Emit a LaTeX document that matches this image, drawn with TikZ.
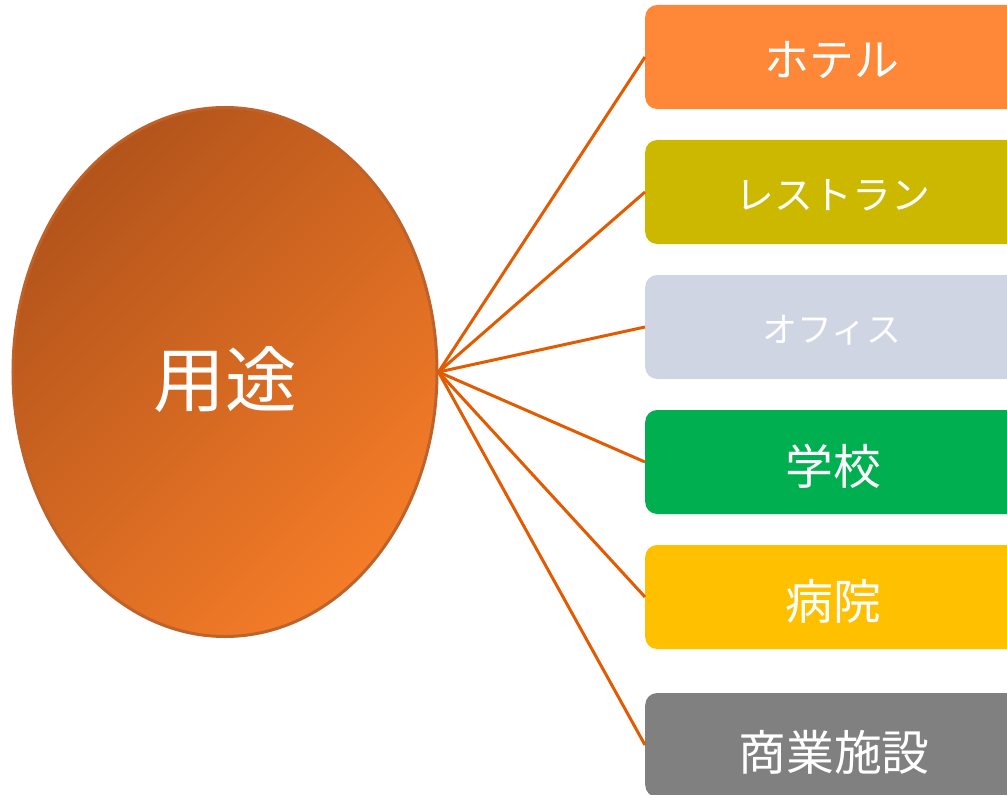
\documentclass[tikz,border=0pt]{standalone}
\usepackage{fontspec}
\newfontfamily\cjk{Noto Sans CJK JP}
\usetikzlibrary{shapes.geometric}
\definecolor{linec}{HTML}{E35B00}
\definecolor{ellD}{HTML}{B3541B}
\definecolor{ellL}{HTML}{F47C28}
\definecolor{ellB}{HTML}{BF622A}
\definecolor{cA}{HTML}{FF8838}
\definecolor{cB}{HTML}{CDB800}
\definecolor{cC}{HTML}{CFD5E3}
\definecolor{cD}{HTML}{00B050}
\definecolor{cE}{HTML}{FFC000}
\definecolor{cF}{HTML}{808080}
\tikzset{
  catbox/.style={rounded corners=12bp, minimum width=375bp, minimum height=104bp, inner sep=0pt, anchor=west, text=white},
  conn/.style={draw=linec, line width=3bp},
}
\begin{document}
\begin{tikzpicture}[x=1bp,y=-1bp]
\useasboundingbox (0,0) rectangle (1007,795);
\clip (0,0) rectangle (1007,795);
\node[ellipse, draw=ellB, line width=3bp, top color=ellD, bottom color=ellL, shading angle=45,
  minimum width=424bp, minimum height=529bp, inner sep=0pt] (u) at (225,372) {};
\node[text=white, font=\cjk\fontsize{72}{72}\selectfont] (ut) at (225,380) {用途};
\node[catbox, fill=cA] (b1) at (645,57) {};
\node[catbox, fill=cB] (b2) at (645,192) {};
\node[catbox, fill=cC] (b3) at (645,327) {};
\node[catbox, fill=cD] (b4) at (645,462) {};
\node[catbox, fill=cE] (b5) at (645,597) {};
\node[catbox, fill=cF] (b6) at (645,745) {};
\node[text=white, font=\cjk\fontsize{45}{45}\selectfont] (t1) at (832,60) {ホテル};
\node[text=white, font=\cjk\fontsize{39}{39}\selectfont] (t2) at (833,195) {レストラン};
\node[text=white, font=\cjk\fontsize{35}{35}\selectfont] (t3) at (832,330) {オフィス};
\node[text=white, font=\cjk\fontsize{48}{48}\selectfont] (t4) at (833,466) {学校};
\node[text=white, font=\cjk\fontsize{48}{48}\selectfont] (t5) at (833,601) {病院};
\node[text=white, font=\cjk\fontsize{48}{48}\selectfont] (t6) at (834,752) {商業施設};
\foreach \b in {b1,b2,b3,b4,b5,b6}{
  \draw[conn] (u.east) -- (\b.west);
}
\end{tikzpicture}
\end{document}
